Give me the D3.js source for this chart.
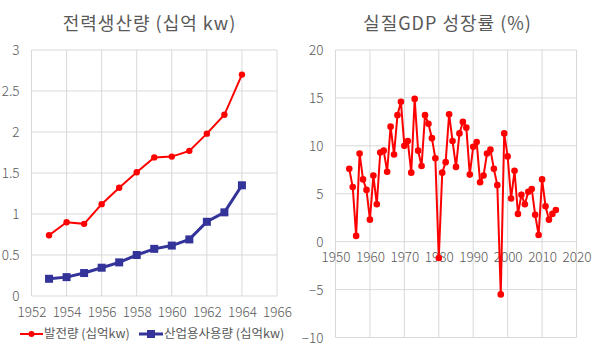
<!DOCTYPE html>
<meta charset='utf-8'>
<html>

<head>
    <title>전력생산량 / 실질GDP 성장률</title>
    <script src="https://d3js.org/d3.v7.min.js"></script>
    <style>
        body {
            padding: 0;
            margin: 0;
            background: #fff;
        }

        svg text {
            font-family: "Noto Sans CJK KR", "Noto Sans", sans-serif;
            fill: #595959;
        }
    </style>
</head>

<body>
    <svg id="chart" width="600" height="358"></svg>

    <script>
        // 왼쪽: 전력생산량 (십억 kw)
        var powerYears = [1953, 1954, 1955, 1956, 1957, 1958, 1959, 1960, 1961, 1962, 1963, 1964];
        var powerGen = [0.74, 0.90, 0.88, 1.12, 1.32, 1.51, 1.69, 1.70, 1.77, 1.98, 2.21, 2.70];
        var powerInd = [0.21, 0.23, 0.28, 0.345, 0.41, 0.50, 0.575, 0.615, 0.69, 0.905, 1.02, 1.35];
        var powerXTicks = [1952, 1954, 1956, 1958, 1960, 1962, 1964, 1966];
        var powerYTicks = [0, 0.5, 1, 1.5, 2, 2.5, 3];

        // 오른쪽: 실질GDP 성장률 (%)
        var gdpYears = d3.range(1954, 2015);
        var gdpGrowth = [7.6, 5.7, 0.6, 9.2, 6.5, 5.4, 2.3, 6.9, 3.9, 9.3, 9.5, 7.3, 12.0, 9.1, 13.2, 14.6,
            10.0, 10.5, 7.2, 14.9, 9.5, 7.9, 13.2, 12.3, 10.8, 8.7, -1.7, 7.2, 8.3, 13.3, 10.5, 7.8,
            11.3, 12.5, 11.9, 7.0, 9.9, 10.4, 6.2, 6.9, 9.2, 9.6, 7.6, 5.9, -5.5, 11.3, 8.9,
            4.5, 7.4, 2.9, 4.9, 3.9, 5.2, 5.5, 2.8, 0.7, 6.5, 3.7, 2.3, 2.9, 3.3];
        var gdpXTicks = d3.range(1950, 2021, 10);
        var gdpYTicks = [-10, -5, 0, 5, 10, 15, 20];

        var svg = d3.select('#chart');
        var gridColor = '#d9d9d9';
        var tickFont = 13.5;

        function drawGrid(g, x, y, xTicks, yTicks) {
            g.selectAll('.vgrid')
                .data(xTicks)
                .enter()
                .append('line')
                .attr('x1', function (d) { return x(d); })
                .attr('x2', function (d) { return x(d); })
                .attr('y1', y.range()[0])
                .attr('y2', y.range()[1])
                .attr('stroke', gridColor)
                .attr('stroke-width', 1);
            g.selectAll('.hgrid')
                .data(yTicks)
                .enter()
                .append('line')
                .attr('x1', x.range()[0])
                .attr('x2', x.range()[1])
                .attr('y1', function (d) { return y(d); })
                .attr('y2', function (d) { return y(d); })
                .attr('stroke', gridColor)
                .attr('stroke-width', 1);
        }

        function drawYAxis(g, x, y, ticks) {
            var axis = g.append('g')
                .attr('transform', 'translate(' + (x.range()[0] - 12) + ',0)')
                .call(d3.axisLeft(y).tickValues(ticks).tickSize(0).tickPadding(0).tickFormat(d3.format('~g')));
            axis.select('.domain').remove();
            axis.selectAll('text')
                .attr('font-size', tickFont)
                .attr('font-weight', 300)
                .attr('fill', '#595959')
                .style('font-family', '"Noto Sans CJK KR", sans-serif')
                .attr('dy', '0.36em');
        }

        function drawXAxis(g, x, baseline, ticks) {
            var axis = g.append('g')
                .attr('transform', 'translate(0,' + baseline + ')')
                .call(d3.axisBottom(x).tickValues(ticks).tickSize(0).tickPadding(0).tickFormat(d3.format('d')));
            axis.select('.domain').remove();
            axis.selectAll('text')
                .attr('font-size', tickFont)
                .attr('font-weight', 300)
                .attr('fill', '#595959')
                .style('font-family', '"Noto Sans CJK KR", sans-serif')
                .attr('y', 0)
                .attr('dy', null);
        }

        // ---- 왼쪽 차트 ----
        var xL = d3.scaleLinear().domain([1952, 1966]).range([31.5, 277]);
        var yL = d3.scaleLinear().domain([0, 3]).range([296, 50]);
        var gL = svg.append('g');

        drawGrid(gL, xL, yL, powerXTicks, powerYTicks);
        drawYAxis(gL, xL, yL, powerYTicks);
        drawXAxis(gL, xL, 316.5, powerXTicks);

        gL.append('text')
            .attr('x', 149.5)
            .attr('y', 30)
            .attr('text-anchor', 'middle')
            .attr('font-size', 18)
            .attr('letter-spacing', 1)
            .text('전력생산량 (십억 kw)');

        var lineL = d3.line()
            .x(function (d) { return xL(d[0]); })
            .y(function (d) { return yL(d[1]); });

        var genData = powerYears.map(function (yr, i) { return [yr, powerGen[i]]; });
        var indData = powerYears.map(function (yr, i) { return [yr, powerInd[i]]; });

        gL.append('path')
            .datum(genData)
            .attr('d', lineL)
            .attr('fill', 'none')
            .attr('stroke', '#ff0000')
            .attr('stroke-width', 2);
        gL.selectAll('.gen')
            .data(genData)
            .enter()
            .append('circle')
            .attr('cx', function (d) { return xL(d[0]); })
            .attr('cy', function (d) { return yL(d[1]); })
            .attr('r', 3.2)
            .attr('fill', '#ff0000');

        gL.append('path')
            .datum(indData)
            .attr('d', lineL)
            .attr('fill', 'none')
            .attr('stroke', '#333399')
            .attr('stroke-width', 3);
        gL.selectAll('.ind')
            .data(indData)
            .enter()
            .append('rect')
            .attr('x', function (d) { return xL(d[0]) - 4; })
            .attr('y', function (d) { return yL(d[1]) - 4; })
            .attr('width', 8)
            .attr('height', 8)
            .attr('fill', '#333399');

        // 범례
        var legend = svg.append('g').attr('transform', 'translate(0,334)');
        legend.append('line')
            .attr('x1', 20).attr('x2', 43).attr('y1', 0).attr('y2', 0)
            .attr('stroke', '#ff0000').attr('stroke-width', 2);
        legend.append('circle')
            .attr('cx', 31.5).attr('cy', 0).attr('r', 3).attr('fill', '#ff0000');
        legend.append('text')
            .attr('x', 44).attr('y', 0).attr('dy', '0.35em')
            .attr('font-size', 12.5)
            .text('발전량 (십억kw)');
        legend.append('line')
            .attr('x1', 139).attr('x2', 163).attr('y1', 0).attr('y2', 0)
            .attr('stroke', '#333399').attr('stroke-width', 3);
        legend.append('rect')
            .attr('x', 147).attr('y', -4).attr('width', 8).attr('height', 8).attr('fill', '#333399');
        legend.append('text')
            .attr('x', 164).attr('y', 0).attr('dy', '0.35em')
            .attr('font-size', 12.5)
            .text('산업용사용량 (십억kw)');

        // ---- 오른쪽 차트 ----
        var xR = d3.scaleLinear().domain([1950, 2020]).range([335.5, 576.5]);
        var yR = d3.scaleLinear().domain([-10, 20]).range([337.5, 50]);
        var gR = svg.append('g');

        drawGrid(gR, xR, yR, gdpXTicks, gdpYTicks);
        drawYAxis(gR, xR, yR, gdpYTicks);
        drawXAxis(gR, xR, 261.5, gdpXTicks);

        gR.append('text')
            .attr('x', 447.5)
            .attr('y', 30)
            .attr('text-anchor', 'middle')
            .attr('font-size', 18)
            .attr('letter-spacing', 1)
            .text('실질GDP 성장률 (%)');

        var gdpData = gdpYears.map(function (yr, i) { return [yr, gdpGrowth[i]]; });
        var lineR = d3.line()
            .x(function (d) { return xR(d[0]); })
            .y(function (d) { return yR(d[1]); });

        gR.append('path')
            .datum(gdpData)
            .attr('d', lineR)
            .attr('fill', 'none')
            .attr('stroke', '#ff0000')
            .attr('stroke-width', 2);
        gR.selectAll('.gdp')
            .data(gdpData)
            .enter()
            .append('circle')
            .attr('cx', function (d) { return xR(d[0]); })
            .attr('cy', function (d) { return yR(d[1]); })
            .attr('r', 3.3)
            .attr('fill', '#ff0000');
    </script>
</body>

</html>
